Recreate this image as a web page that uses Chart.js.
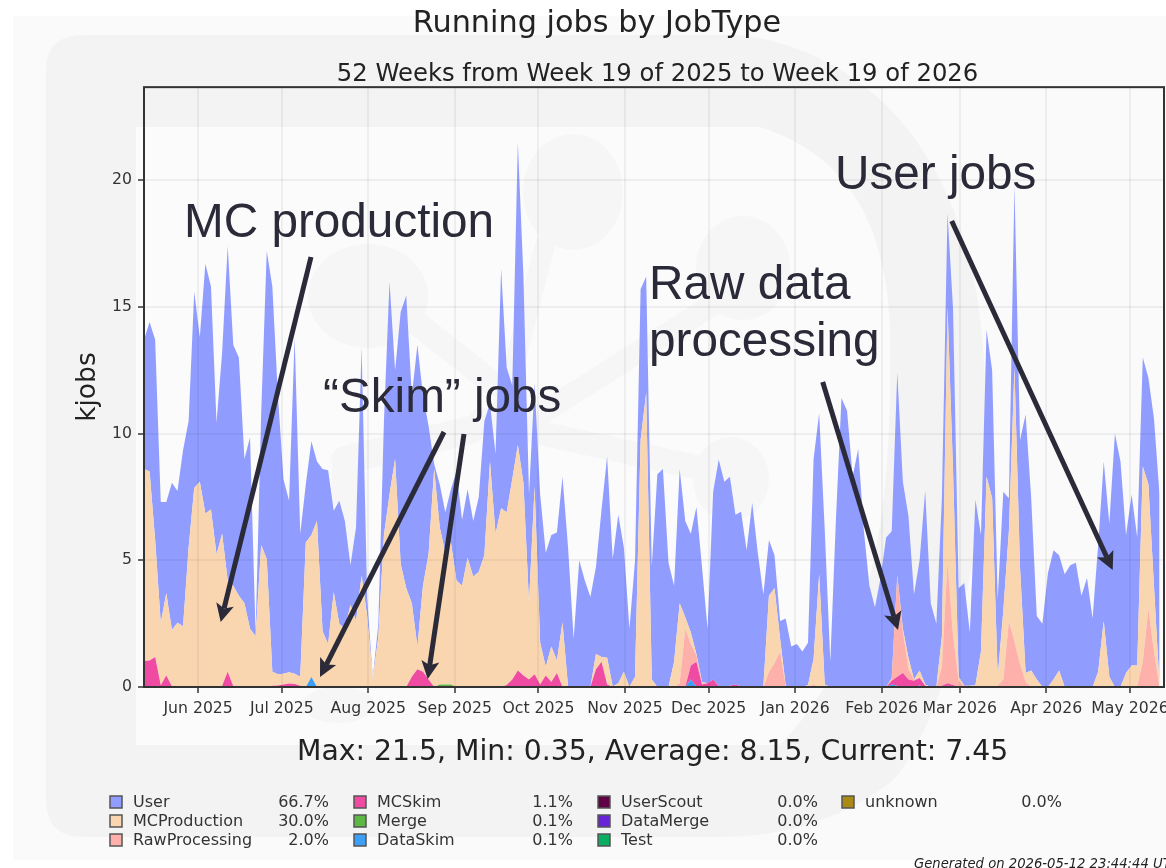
<!DOCTYPE html>
<html>
<head>
<meta charset="utf-8">
<title>Running jobs by JobType</title>
<script src="https://cdn.jsdelivr.net/npm/chart.js@4"></script>
<style>
html,body{margin:0;padding:0;background:#fff;overflow:hidden}
canvas{display:block;filter:blur(0.45px)}
</style>
</head>
<body>
<canvas id="c" width="1166" height="868"></canvas>
<script>
const chartTitle = 'Running jobs by JobType';
const chartSubtitle = '52 Weeks from Week 19 of 2025 to Week 19 of 2026';
const statsLine = 'Max: 21.5, Min: 0.35, Average: 8.15, Current: 7.45';
const generatedLine = 'Generated on 2026-05-12 23:44:44 UTC';
const yAxisTitle = 'kjobs';
const yTicks = [0, 5, 10, 15, 20];
const monthLabels = ['Jun 2025','Jul 2025','Aug 2025','Sep 2025','Oct 2025','Nov 2025','Dec 2025','Jan 2026','Feb 2026','Mar 2026','Apr 2026','May 2026'];
const monthDays = [19.4,49.4,80.4,111.4,141.4,172.4,202.4,233.4,264.4,292.4,323.4,353.4];
const stepDays = 2;

const user = [
5.1,5.9,7.9,4.76,3.6,5.81,5.19,6.95,5,7.75,
5.7,9.85,8.8,5.2,7.15,13.2,9.5,9.4,5.7,7.55,
.1,5.2,12.15,15.2,11,7.68,6.77,13.28,5.65,2.3,
3.7,2.35,6.4,6.85,3.2,4.85,4.25,1.55,3.7,9,
.7,.05,.5,4.5,8.4,3.5,9.95,11.55,8.2,11.9,
7.5,5.05,.2,1.7,1.6,2.1,4.3,2.6,2.7,2.2,
2.95,5.3,2.3,3.15,9.45,5.7,3.7,11.95,8.15,4.3,
4.1,5.85,4.5,4.4,5.05,5.75,5.5,1.9,5,4.2,
3.55,3.45,5.82,7.95,5.03,6.65,4.9,2.3,4.6,5.95,
4.6,4.45,8.4,8.6,4.9,3,5.3,3.8,3.9,5.8,
4.55,2.15,7.4,8.95,8.1,8.25,6.7,6.9,5.4,7.27,
5.3,3.65,2.2,1.3,.7,2.65,1.6,1.7,1.4,1.67,
7.9,6.35,6.1,1,6.6,11.4,10.9,8.3,9.4,6.2,
4,3.15,4.3,5.9,5.8,8,5.8,5.6,3.35,4.35,
7.65,3.3,2.5,5.5,3.7,6.4,3.5,4.05,2.1,7.33,
4.6,5.8,5.05,3.05,4.7,1.3,7.2,5.05,10.2,6.8,
2.5,2.5,4.5,5.1,4.55,4.45,4.8,4.9,3.6,4.3,
2.7,5,6.3,6.05,10,8.9,5.45,6.75,5.05,4.3,
4.2,6.6,7.55];

const mcProduction = [
7.57,7.45,4.62,2.47,3.25,2.22,2.54,2.4,5.5,7.85,
8.1,6.85,7,5.2,6,3.6,3.97,3.6,3.3,2.3,
2,5.6,5.05,.55,.44,.42,.44,.4,.35,5.7,
5.61,6.55,2.2,1.7,3.75,2.5,2.3,3.25,2.6,4.4,
2.8,.3,2,6,7.6,9,4.85,3.9,2.9,.9,
3.4,4.95,8.6,6.2,5.2,5.6,4.2,4,5.1,4.35,
4.55,5.2,8.9,6.05,7.05,6.82,7.9,8.9,7.6,3,
7.4,1.65,.35,1.4,.5,2.55,0,0,0,0,
0,.6,.18,1.05,.02,.15,.6,0,.4,9.75,
11.6,.3,0,0,0,1,3.15,.45,.45,.05,
.05,0,0,0,0,0,0,0,0,0,
0,0,3,2.95,.5,.02,0,0,0,.08,
1,4.45,.1,0,0,0,0,0,0,0,
0,0,0,0,.05,.02,.1,.45,0,.29,
.05,0,0,1.2,10.1,6.5,.15,0,0,.07,
1.4,8.3,7.45,.35,2.7,3.55,10.8,3.8,.35,.65,
.3,0,0,.3,.65,0,0,0,0,0,
0,.6,2.6,.4,0,0,.55,.85,.82,7.7,
4.9,2.6,.05];

const rawProcessing = [
0,0,0,0,0,0,0,0,0,0, 0,0,0,0,0,0,0,0,0,0,
0,0,0,0,0,0,0,0,0,0, 0,0,0,0,0,0,0,0,0,0,
0,0,0,0,0,0,0,0,0,0, 0,0,0,0,0,0,0,0,0,0,
0,0,0,0,0,0,0,0,0,0, 0,0,0,0,0,0,0,0,0,0,
0,0,0,0,0,0,0,0,0,0,
0,0,0,0,0,0,.15,2.3,.85,.25,
.05,0,0,0,0,0,0,0,0,0,
0,0,.6,.95,1.4,.03,0,0,0,0,
.1,0,0,0,0,0,0,0,0,0,
0,0,0,0,.05,4,1.65,.4,.05,0,
0,0,0,.75,4.75,1.92,.25,.02,.05,0,
0,0,0,.05,.3,2.6,1.8,.9,.2,0,
0,0,0,0,0,0,0,0,0,0,
0,0,0,0,0,0,0,0,.03,1,
3.1,1.4,0];

const mcSkim = [
1.03,1.05,1.18,.07,.45,.03,0,0,0,0,
0,0,0,0,0,.6,.03,0,0,0,
0,0,0,.05,.06,.1,.14,.12,.05,0,
0,0,0,0,0,0,0,0,0,0,
0,0,0,0,0,0,0,0,.4,.7,
.6,.3,0,0,0,0,0,0,0,0,
0,0,0,0,0,.08,.3,.65,.45,.3,
.5,.1,.45,.2,.55,0,0,0,0,0,
0,.7,1,.1,0,0,0,0,0,0,
0,0,0,0,0,0,0,0,.55,1,
.1,.15,.3,.03,0,.05,.1,.02,0,0,
0,0,0,0,0,0,0,0,0,0,
0,0,0,0,0,0,0,0,0,0,
0,0,0,0,.15,.35,.55,.3,.25,.3,
.05,0,0,.05,.1,.08,0,.03,0,0,
0,0,0,0,0,0,0,0,0,0, 0,0,0,0,0,0,0,0,0,0,
0,0,0,0,0,0,0,0,0,0,
0,0,0];

const merge = [
0,0,0,0,0,0,0,0,0,0,
0,0,0,.03,.05,0,0,0,0,0,
0,0,0,0,0,0,0,0,0,0, 0,0,0,0,0,0,0,0,0,0,
0,0,0,0,0,0,0,0,0,0,
0,0,0,.1,.1,.1,0,0,0,0,
0,0,0,0,0,0,0,0,0,0, 0,0,0,0,0,0,0,0,0,0,
0,0,0,0,0,0,0,0,0,0, 0,0,0,0,0,0,0,0,0,0,
0,0,0,0,0,0,0,0,0,0, 0,0,0,0,0,0,0,0,0,0,
0,0,0,0,0,0,0,0,0,0, 0,0,0,0,0,0,0,0,0,0,
0,0,0,0,0,0,0,0,0,0, 0,0,0,0,0,0,0,0,0,0,
0,0,0,0,0,0,0,0,0,0, 0,0,0,0,0,0,0,0,0,0,
0,0,0];

const dataSkim = [
0,0,0,0,0,0,0,0,0,0, 0,0,0,0,0,0,0,0,0,0, 0,0,0,0,0,0,0,0,0,0,
.39,0,0,0,0,0,0,0,0,0,
0,0,0,0,0,0,0,0,0,0, 0,0,0,0,0,0,0,0,0,0,
0,0,0,0,0,0,0,0,0,0, 0,0,0,0,0,0,0,0,0,0,
0,0,0,0,0,0,0,0,0,0,
0,0,0,0,0,0,0,0,.3,0,
0,0,0,0,0,0,0,0,0,0, 0,0,0,0,0,0,0,0,0,0, 0,0,0,0,0,0,0,0,0,0,
0,0,0,0,.1,.05,0,0,0,.06,
0,0,0,0,.05,0,0,0,0,0,
0,0,0,0,0,0,0,0,0,0, 0,0,0,0,0,0,0,0,0,0, 0,0,0,0,0,0,0,0,0,0,
0,0,0];

const legendNames = ['User','MCProduction','RawProcessing','MCSkim','Merge','DataSkim','UserScout','DataMerge','Test','unknown'];
const legendShares = ['66.7%','30.0%','2.0%','1.1%','0.1%','0.1%','0.0%','0.0%','0.0%','0.0%'];
const legendColors = ['#909dff','#f9d6af','#fdb1aa','#ef4ba3','#5eb845','#3a9ff5','#600046','#6a24d8','#0aae60','#ab8a14'];

const annotations = [
  {text:'MC production', x:184, y:237},
  {text:'\u201CSkim\u201D jobs', x:323, y:412},
  {text:'Raw data', x:649, y:299},
  {text:'processing', x:649, y:356},
  {text:'User jobs', x:835, y:189}
];
const arrows = [
  [311,257,220.7,622],
  [444,432,320,677],
  [464,434,427.7,679],
  [822.7,382,898,630],
  [951.7,221,1112.7,570]
];

const xy = vals => vals.map((v,i)=>({x:i*stepDays,y:v}));
const area = (label,vals,color,fill) => ({label,data:xy(vals),backgroundColor:color,borderWidth:0,pointRadius:0,tension:0,fill,stack:'jobs'});
const noMargins = s => { s.paddingLeft=0; s.paddingRight=0; s.paddingTop=0; s.paddingBottom=0; };

const ink = '#2a2a38';
const scenery = {
  id:'scenery',
  afterLayout(chart){
    const box = chart.boxes.find(b=>b.options && b.options.text===chartSubtitle);
    if(box){ box.left+=3.5; box.right+=3.5; }
  },
  beforeDraw(chart){
    const g = chart.ctx;
    g.save();
    g.fillStyle='#ffffff'; g.fillRect(0,0,1166,868);
    g.fillStyle='#fafafa'; g.fillRect(13,16,1153,844);
    // faint logo: outer D
    g.fillStyle='#f3f3f3';
    g.beginPath();
    g.moveTo(46,70); g.quadraticCurveTo(46,35,84,35);
    g.lineTo(740,35);
    g.bezierCurveTo(860,50,985,150,985,400);
    g.bezierCurveTo(985,600,930,740,893,780);
    g.bezierCurveTo(850,815,790,837,720,837);
    g.lineTo(84,837); g.quadraticCurveTo(46,837,46,800);
    g.closePath(); g.fill();
    // inner counter of the D
    g.fillStyle='#fbfbfb';
    g.beginPath();
    g.moveTo(136,127); g.lineTo(760,127);
    g.bezierCurveTo(830,150,885,200,890,330);
    g.bezierCurveTo(892,500,880,640,780,745);
    g.lineTo(136,745); g.closePath(); g.fill();
    // logo strokes inside the counter
    g.fillStyle='#f6f6f6'; g.strokeStyle='#f6f6f6'; g.lineCap='round';
    const blobs=[[368,296,60,52],[573,192,50,58],[743,268,47,52],[731,479,38,42],[338,705,36,18]];
    blobs.forEach(b=>{g.beginPath();g.ellipse(b[0],b[1],b[2],b[3],0,0,7);g.fill();});
    const bands=[[400,310,495,385,24],[545,245,495,440,20],[720,300,500,440,22],[710,470,480,420,24],[470,430,345,460,28],[345,470,338,700,26]];
    bands.forEach(b=>{g.lineWidth=b[4];g.beginPath();g.moveTo(b[0],b[1]);g.lineTo(b[2],b[3]);g.stroke();});
    g.restore();
  },
  afterDraw(chart){
    const g = chart.ctx, a = chart.chartArea;
    g.save();
    // plot frame
    g.strokeStyle='#333'; g.lineWidth=2;
    g.strokeRect(a.left,a.top,a.right-a.left,a.bottom-a.top);
    // statistics line
    g.textBaseline='alphabetic'; g.textAlign='left';
    g.fillStyle='#222'; g.font='28.3px "DejaVu Sans"';
    g.fillText(statsLine,297,760);
    // legend
    const colX=[110,354,598,842], pctX=[329,573,818,1062], rowY=[796,815,834];
    legendNames.forEach((name,i)=>{
      const c = Math.floor(i/3), r = i%3;
      g.fillStyle=legendColors[i]; g.strokeStyle='#555'; g.lineWidth=1.5;
      g.fillRect(colX[c],rowY[r],12,12); g.strokeRect(colX[c],rowY[r],12,12);
      g.fillStyle='#333'; g.font='16px "DejaVu Sans"'; g.textAlign='left';
      g.fillText(name,colX[c]+23,rowY[r]+11);
      g.textAlign='right'; g.fillText(legendShares[i],pctX[c],rowY[r]+11);
    });
    // footer
    g.textAlign='left'; g.fillStyle='#222'; g.font='italic 13.2px "DejaVu Sans"';
    g.fillText(generatedLine,914,868);
    // callouts
    g.fillStyle=ink; g.strokeStyle=ink;
    g.font='47.7px "Liberation Sans"';
    annotations.forEach(t=>g.fillText(t.text,t.x,t.y));
    arrows.forEach(r=>{
      const [x0,y0,x1,y1]=r, ang=Math.atan2(y1-y0,x1-x0), L=18, W=9;
      const ux=Math.cos(ang), uy=Math.sin(ang);
      g.lineWidth=5; g.lineCap='butt';
      g.beginPath(); g.moveTo(x0,y0); g.lineTo(x1-ux*(L-4),y1-uy*(L-4)); g.stroke();
      g.beginPath(); g.moveTo(x1,y1);
      g.lineTo(x1-ux*L-uy*W,y1-uy*L+ux*W);
      g.lineTo(x1-ux*(L-4),y1-uy*(L-4));
      g.lineTo(x1-ux*L+uy*W,y1-uy*L-ux*W);
      g.closePath(); g.fill();
    });
    g.restore();
  }
};

new Chart(document.getElementById('c'),{
  type:'line',
  data:{datasets:[
    area('DataSkim',dataSkim,legendColors[5],'origin'),
    area('Merge',merge,legendColors[4],'-1'),
    area('MCSkim',mcSkim,legendColors[3],'-1'),
    area('RawProcessing',rawProcessing,legendColors[2],'-1'),
    area('MCProduction',mcProduction,legendColors[1],'-1'),
    area('User',user,legendColors[0],'-1')
  ]},
  plugins:[scenery],
  options:{
    responsive:false, animation:false, devicePixelRatio:1,
    layout:{padding:{left:30,right:2,top:0,bottom:0}},
    plugins:{
      legend:{display:false}, tooltip:{enabled:false},
      filler:{propagate:false},
      title:{display:true,text:chartTitle,color:'#222',font:{family:'"DejaVu Sans"',size:30.3,weight:'normal',lineHeight:1.2},padding:{top:6,bottom:20.5}},
      subtitle:{display:true,text:chartSubtitle,color:'#222',fullSize:false,font:{family:'"DejaVu Sans"',size:24.3,weight:'normal',lineHeight:1},padding:{top:0,bottom:0}}
    },
    scales:{
      x:{type:'linear',min:0,max:365.6,
        afterBuildTicks(s){s.ticks=monthDays.map(v=>({value:v}));},
        afterFit(s){s.height=181;noMargins(s);},
        grid:{display:true,color:'rgba(0,0,0,0.05)',lineWidth:2,tickColor:'#333',tickLength:6,tickWidth:1.5,z:1},
        border:{display:false},
        ticks:{color:'#333',font:{family:'"DejaVu Sans"',size:15.7},autoSkip:false,maxRotation:0,minRotation:0,padding:7,
          callback(v){const i=monthDays.indexOf(v);return i<0?'':monthLabels[i];}}
      },
      y:{stacked:true,min:0,max:23.67,
        afterBuildTicks(s){s.ticks=yTicks.map(v=>({value:v}));},
        afterFit(s){s.width=114;noMargins(s);},
        title:{display:true,text:yAxisTitle,color:'#222',font:{family:'"DejaVu Sans"',size:26.5},padding:{top:42,bottom:0}},
        grid:{display:true,color:'rgba(0,0,0,0.05)',lineWidth:2,tickColor:'#333',tickLength:6,tickWidth:1.5,z:1},
        border:{display:false},
        ticks:{color:'#333',font:{family:'"DejaVu Sans"',size:15.7},padding:6,autoSkip:false,callback(v){return String(v);}}
      }
    }
  }
});
</script>
</body>
</html>
